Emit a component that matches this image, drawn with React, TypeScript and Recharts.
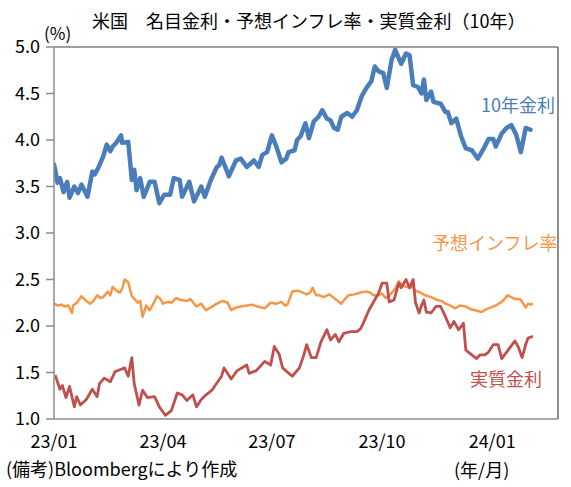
import { LineChart, Line, XAxis, YAxis, ReferenceLine } from "recharts";

// x = days since 2023-01-01
const nominalDays = [
  4, 7, 9, 12, 15, 17, 21, 24, 27, 32, 36, 38, 41, 45, 48, 51, 53, 56, 60, 61, 66, 69, 71, 73, 76, 79, 84, 88,
  92, 96, 101, 104, 109, 111, 117, 121, 127, 130, 135, 140, 142, 144, 148, 150, 156, 160, 165, 171, 175, 178,
  182, 186, 190, 194, 198, 200, 205, 207, 210, 214, 217, 221, 225, 228, 232, 235, 238, 241, 244, 249, 253, 257,
  261, 265, 269, 272, 275, 279, 282, 286, 289, 294, 298, 301, 304, 308, 311, 313, 315, 319, 321, 327, 331, 333,
  336, 340, 344, 348, 353, 358, 363, 367, 371, 373, 378, 382, 386, 390, 394, 398, 402,
];
const nominalRates = [
  3.74, 3.54, 3.59, 3.44, 3.55, 3.38, 3.5, 3.43, 3.52, 3.39, 3.66, 3.63, 3.7, 3.82, 3.95, 3.88, 3.93, 3.97, 4.05,
  3.97, 3.98, 3.57, 3.68, 3.46, 3.59, 3.39, 3.55, 3.55, 3.32, 3.41, 3.41, 3.59, 3.57, 3.39, 3.55, 3.34, 3.5, 3.39,
  3.57, 3.71, 3.73, 3.81, 3.68, 3.61, 3.78, 3.8, 3.71, 3.78, 3.71, 3.84, 3.87, 4.05, 3.92, 3.76, 3.8, 3.87, 3.89,
  4.0, 4.04, 4.18, 4.02, 4.2, 4.25, 4.32, 4.23, 4.21, 4.13, 4.11, 4.25, 4.29, 4.25, 4.32, 4.47, 4.56, 4.63, 4.79,
  4.74, 4.72, 4.56, 4.86, 4.97, 4.82, 4.93, 4.91, 4.59, 4.57, 4.5, 4.65, 4.43, 4.52, 4.41, 4.39, 4.3, 4.3, 4.18,
  4.23, 4.04, 3.91, 3.89, 3.8, 3.91, 4.01, 4.01, 3.93, 4.07, 4.13, 4.16, 4.06, 3.87, 4.13, 4.11,
];

const inflationDays = [
  4, 7, 10, 13, 16, 19, 20, 23, 27, 30, 34, 37, 40, 43, 45, 49, 51, 53, 56, 59, 61, 63, 66, 69, 72, 74, 76, 78, 81,
  84, 87, 90, 93, 95, 99, 102, 106, 110, 115, 118, 121, 123, 127, 131, 135, 140, 145, 149, 152, 156, 160, 165, 169,
  174, 180, 185, 190, 194, 197, 199, 203, 207, 210, 215, 218, 220, 223, 226, 229, 234, 239, 244, 247, 250, 255, 260,
  265, 268, 271, 275, 278, 281, 285, 289, 292, 295, 298, 303, 306, 310, 314, 319, 324, 328, 331, 335, 339, 343, 348,
  352, 356, 361, 365, 369, 373, 378, 383, 386, 389, 392, 394, 398, 400, 402, 404,
];
const inflationRates = [
  2.24, 2.22, 2.23, 2.21, 2.22, 2.14, 2.22, 2.25, 2.32, 2.28, 2.24, 2.27, 2.33, 2.3, 2.31, 2.37, 2.33, 2.42, 2.38,
  2.36, 2.4, 2.5, 2.47, 2.32, 2.28, 2.25, 2.27, 2.1, 2.22, 2.17, 2.24, 2.32, 2.29, 2.24, 2.26, 2.25, 2.3, 2.28, 2.27,
  2.29, 2.24, 2.21, 2.24, 2.17, 2.2, 2.24, 2.27, 2.25, 2.17, 2.2, 2.21, 2.22, 2.23, 2.21, 2.19, 2.25, 2.24, 2.26,
  2.22, 2.23, 2.37, 2.38, 2.37, 2.34, 2.36, 2.41, 2.33, 2.33, 2.31, 2.34, 2.29, 2.24, 2.29, 2.33, 2.34, 2.36, 2.37,
  2.36, 2.33, 2.33, 2.35, 2.3, 2.34, 2.4, 2.48, 2.44, 2.42, 2.42, 2.38, 2.36, 2.33, 2.31, 2.28, 2.27, 2.24, 2.22,
  2.19, 2.22, 2.21, 2.18, 2.17, 2.15, 2.18, 2.2, 2.22, 2.26, 2.33, 2.31, 2.29, 2.29, 2.28, 2.2, 2.24, 2.23, 2.24,
];

const realDays = [
  5, 9, 11, 14, 17, 21, 23, 26, 31, 36, 40, 42, 46, 51, 55, 59, 63, 66, 69, 71, 75, 78, 82, 88, 92, 97, 102, 107,
  111, 115, 120, 123, 127, 131, 136, 138, 144, 146, 152, 157, 165, 167, 173, 180, 185, 188, 192, 195, 203, 209, 213,
  215, 219, 223, 227, 232, 235, 239, 242, 246, 252, 257, 260, 263, 267, 271, 275, 278, 282, 284, 288, 292, 294, 298,
  301, 304, 306, 309, 311, 313, 315, 319, 323, 327, 331, 335, 338, 342, 346, 348, 353, 357, 360, 364, 367, 371, 375,
  378, 381, 385, 389, 392, 395, 398, 400, 404,
];
const realRates = [
  1.47, 1.32, 1.36, 1.23, 1.35, 1.13, 1.24, 1.15, 1.21, 1.32, 1.24, 1.38, 1.44, 1.4, 1.51, 1.53, 1.55, 1.46, 1.66,
  1.38, 1.15, 1.31, 1.23, 1.24, 1.13, 1.04, 1.09, 1.28, 1.26, 1.2, 1.26, 1.13, 1.21, 1.26, 1.31, 1.35, 1.46, 1.55,
  1.43, 1.52, 1.58, 1.49, 1.52, 1.62, 1.58, 1.78, 1.7, 1.55, 1.46, 1.55, 1.7, 1.8, 1.66, 1.66, 1.83, 1.96, 1.85,
  1.91, 1.83, 1.92, 1.94, 1.94, 1.97, 2.05, 2.17, 2.26, 2.35, 2.46, 2.46, 2.26, 2.28, 2.46, 2.41, 2.5, 2.41, 2.5,
  2.25, 2.14, 2.22, 2.28, 2.15, 2.14, 2.21, 2.21, 2.1, 1.98, 2.05, 1.96, 2.03, 1.74, 1.69, 1.65, 1.69, 1.69, 1.72,
  1.8, 1.8, 1.65, 1.7, 1.77, 1.84, 1.77, 1.66, 1.8, 1.87, 1.89,
];

const yTicks = [1, 1.5, 2, 2.5, 3, 3.5, 4, 4.5, 5];
const xTicks = [4, 95, 186, 278, 370];
const xTickLabels = ["23/01", "23/04", "23/07", "23/10", "24/01"];

const toPoints = (days: number[], vals: number[]) => days.map((d, i) => ({ d, v: vals[i] }));

const FONT = '"Noto Sans CJK JP", sans-serif';

const text = (left: number, top: number, color = "#000"): React.CSSProperties => ({
  position: "absolute",
  left,
  top,
  fontFamily: FONT,
  fontSize: 18,
  lineHeight: "18px",
  color,
  whiteSpace: "nowrap",
});

export default function App() {
  return (
    <div style={{ position: "absolute", left: 0, top: 0, width: 571, height: 487, background: "#fff" }}>
      <LineChart width={571} height={487} margin={{ top: 47, right: 13, bottom: 0, left: 0 }}>
        <XAxis
          type="number"
          dataKey="d"
          domain={[4, 425]}
          ticks={xTicks}
          tickFormatter={(_, i) => xTickLabels[i]}
          tickLine={false}
          tickSize={8}
          tickMargin={8}
          height={68}
          axisLine={{ stroke: "#8c8c8c", strokeWidth: 1.5 }}
          tick={{ fontSize: 18, fill: "#000", fontFamily: FONT }}
          allowDataOverflow
        />
        <YAxis
          type="number"
          domain={[1, 5]}
          ticks={yTicks}
          tickFormatter={(v) => v.toFixed(1)}
          width={54}
          tickSize={8}
          tickMargin={6}
          axisLine={{ stroke: "#8c8c8c", strokeWidth: 1.5 }}
          tickLine={{ stroke: "#8c8c8c", strokeWidth: 1.5 }}
          tick={{ fontSize: 18, fill: "#000", fontFamily: FONT }}
          allowDataOverflow
        />
        <ReferenceLine y={5} stroke="#404040" strokeWidth={1.2} />
        <ReferenceLine x={425} stroke="#404040" strokeWidth={1.2} />
        <Line
          data={toPoints(inflationDays, inflationRates)}
          dataKey="v"
          stroke="#F79646"
          strokeWidth={2.5}
          strokeLinejoin="round"
          dot={false}
          isAnimationActive={false}
        />
        <Line
          data={toPoints(realDays, realRates)}
          dataKey="v"
          stroke="#C0504D"
          strokeWidth={2.8}
          strokeLinejoin="round"
          dot={false}
          isAnimationActive={false}
        />
        <Line
          data={toPoints(nominalDays, nominalRates)}
          dataKey="v"
          stroke="#4A7EBB"
          strokeWidth={4.5}
          strokeLinejoin="round"
          strokeLinecap="round"
          dot={false}
          isAnimationActive={false}
        />
      </LineChart>
      <div style={text(92, 11)}>米国　名目金利・予想インフレ率・実質金利（10年）</div>
      <div style={{ ...text(44, 24), fontSize: 17 }}>(%)</div>
      <div style={text(481, 95, "#4A7EBB")}>10年金利</div>
      <div style={text(432, 233, "#F79646")}>予想インフレ率</div>
      <div style={text(470, 369, "#C0504D")}>実質金利</div>
      <div style={text(6, 459)}>(備考)Bloombergにより作成</div>
      <div style={text(454, 460)}>(年/月)</div>
    </div>
  );
}
